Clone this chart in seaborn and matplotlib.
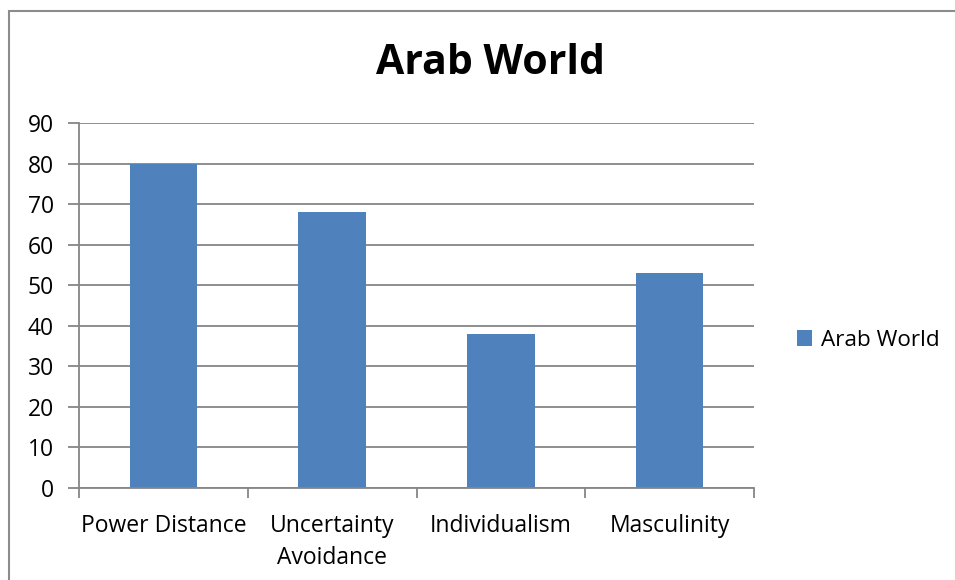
import matplotlib
matplotlib.use('Agg')
import matplotlib.pyplot as plt
import seaborn as sns
import pandas as pd
from matplotlib.patches import Rectangle

categories = ['Power Distance', 'Uncertainty\nAvoidance', 'Individualism', 'Masculinity']
values = [80, 68, 38, 53]
series_name = 'Arab World'

sns.set_style('white')
plt.rcParams['font.family'] = ['Open Sans', 'DejaVu Sans']
plt.rcParams['text.color'] = 'black'
plt.rcParams['xtick.color'] = 'black'
plt.rcParams['ytick.color'] = 'black'

df = pd.DataFrame({'dimension': categories, 'score': values, 'series': series_name})

fig = plt.figure(figsize=(9.55, 5.8), dpi=100)
ax = fig.add_axes([79 / 955, 1 - 488 / 580, 675 / 955, 365 / 580])

sns.barplot(data=df, x='dimension', y='score', hue='series', palette=['#4F81BD'],
            width=0.4, saturation=1, linewidth=0, ax=ax, legend=True)

grid_color = '#868686'
ax.set_ylim(0, 90)
ax.set_yticks(range(0, 91, 10))
ax.set_xlim(-0.5, 3.5)
ax.yaxis.grid(True, color=grid_color, linewidth=1.3)
ax.set_axisbelow(True)
for side in ['top', 'right']:
    ax.spines[side].set_visible(False)
for side in ['left', 'bottom']:
    ax.spines[side].set_color(grid_color)
    ax.spines[side].set_linewidth(1.3)

ax.set_xlabel('')
ax.set_ylabel('')
ax.tick_params(axis='y', length=8, width=1.3, color=grid_color, labelcolor='black',
               labelsize=16.5, pad=10, left=True)
ax.tick_params(axis='x', length=0, labelsize=16.5, labelcolor='black', pad=19)
# category separator ticks
ax.set_xticks([-0.5, 0.5, 1.5, 2.5, 3.5], minor=True)
ax.tick_params(axis='x', which='minor', length=7, width=1.3, color=grid_color, bottom=True)
for lbl in ax.get_xticklabels():
    lbl.set_linespacing(1.45)

leg = ax.legend(loc='center left', bbox_to_anchor=(1.033, 0.405), frameon=False,
                fontsize=16.2, handlelength=0.7, handleheight=0.7, handletextpad=0.4)
for t in leg.get_texts():
    t.set_color('black')

fig.text(490 / 955, 1 - 63 / 580, 'Arab World', ha='center', va='center',
         fontsize=29.5, fontweight='bold', color='black')

fig.patches.append(Rectangle((9 / 955, -0.1), 1.2, 1 - 11 / 580 + 0.1, transform=fig.transFigure,
                             fill=False, edgecolor='#8c8c8c', linewidth=1.5))

fig.savefig('out.png', dpi=100)
